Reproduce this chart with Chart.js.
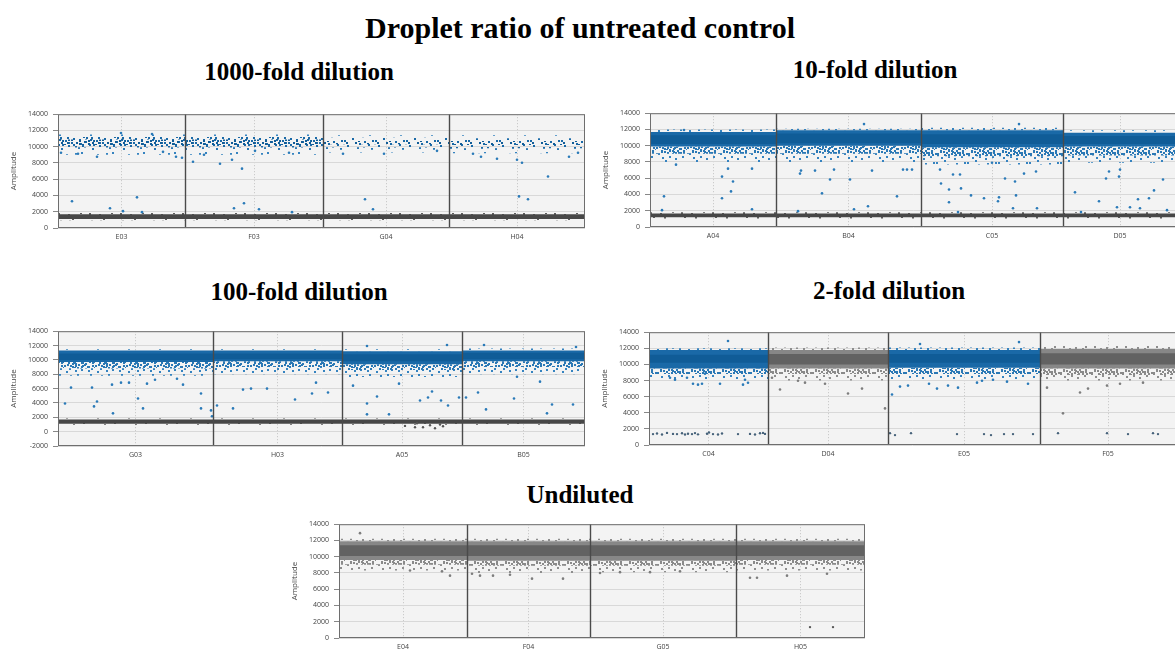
<!DOCTYPE html>
<html>
<head>
<meta charset="utf-8">
<script src="https://cdn.jsdelivr.net/npm/chart.js@4.4.1/dist/chart.umd.min.js"></script>
<style>
html, body { margin: 0; padding: 0; background: #fff; width: 1175px; height: 650px; overflow: hidden; position: relative; }
.t { position: absolute; font-family: "Liberation Serif", "Times New Roman", serif; font-weight: bold; color: #000; white-space: nowrap; transform: translate(-50%, -50%); }
.p { position: absolute; }
</style>
</head>
<body>
<div class="t" style="left:580px;top:28px;font-size:30px">Droplet ratio of untreated control</div>
<div class="t" style="left:299px;top:72px;font-size:25px">1000-fold dilution</div>
<div class="t" style="left:875px;top:70px;font-size:25px">10-fold dilution</div>
<div class="t" style="left:299px;top:292px;font-size:25px">100-fold dilution</div>
<div class="t" style="left:889px;top:291px;font-size:25px">2-fold dilution</div>
<div class="t" style="left:580px;top:495px;font-size:25px">Undiluted</div>

<div class="p" style="left:2px;top:105px;width:587px;height:143px"><canvas id="c1000"></canvas></div>
<div class="p" style="left:594px;top:104px;width:587px;height:143px"><canvas id="c10"></canvas></div>
<div class="p" style="left:2px;top:322px;width:587px;height:144px"><canvas id="c100"></canvas></div>
<div class="p" style="left:593px;top:323px;width:587px;height:142px"><canvas id="c2"></canvas></div>
<div class="p" style="left:283px;top:515px;width:586px;height:143px"><canvas id="c0"></canvas></div>

<script>
// ---- dane: studzienki, liczba kropli, pasma amplitudy ----
// pasmo pozytywne: [ogonDol, ogonSrodek, pasmoDol, rdzenDol, rdzenGora, pasmoGora, ogonGora]

// 1000-fold
const wells1000 = ['E03', 'F03', 'G04', 'H04'];
const events1000 = [12700, 13800, 12600, 13600];
const posBand1000 = [
    [9000, 9600, 9900, 10200, 10900, 11200, 11500],
    [9000, 9600, 9900, 10200, 10900, 11200, 11500],
    [9300, 9700, 9900, 10300, 10700, 11100, 11400],
    [9200, 9600, 9800, 10200, 10700, 11000, 11400]
];
const negBand1000 = [[1100, 1700], [1100, 1700], [1100, 1700], [1100, 1700]];
const posOut1000 = [
    [300, 9250], [2000, 9130], [3900, 8760], [1400, 3290], [5200, 2430], [7900, 3770], [6500, 2070],
    [8400, 1950], [10500, 9370], [11800, 8760], [12400, 8640], [6300, 11680], [9400, 11560],
    [13500, 8150], [14600, 9010], [16200, 7910], [17400, 8400], [18400, 7300], [17600, 2430],
    [18600, 3040], [20100, 2310], [23400, 1950], [19700, 9490], [23100, 9250], [28500, 9130],
    [32600, 9130], [30700, 3530], [31500, 2310], [37900, 9490], [41500, 9130], [42300, 8760],
    [43900, 8520], [45900, 8400], [46400, 8030], [49000, 6330], [46100, 3890], [47000, 3530],
    [51100, 8760], [52000, 9250]
];
const negOut1000 = [];

// 10-fold
const wells10 = ['A04', 'B04', 'C05', 'D05'];
const events10 = [12600, 14500, 14200, 11400];
const posBand10 = [
    [8000, 9000, 9900, 10200, 11300, 11700, 12000],
    [8000, 9000, 10000, 10300, 11500, 11900, 12100],
    [7700, 8700, 9800, 10200, 11400, 11900, 12200],
    [7900, 8800, 9900, 10200, 11200, 11600, 11900]
];
const negBand10 = [[1200, 1650], [1200, 1650], [1200, 1650], [1200, 1650]];
const posOut10 = [
    [1400, 3770], [1200, 2070], [7200, 6200], [7800, 7180], [8300, 5600], [7200, 3530], [8100, 4380],
    [10200, 7180], [10200, 2190], [2600, 7670], [3400, 11930], [15000, 6570], [15100, 6940],
    [17200, 4140], [18000, 5840], [18400, 7060], [20000, 5840], [21400, 12660], [21800, 2560],
    [20400, 2190], [14800, 1950], [16500, 6940], [22200, 6940], [24700, 3770], [25300, 7060],
    [25700, 7060], [26200, 7060], [29100, 5360], [29900, 4620], [31100, 4750], [29900, 3040],
    [32100, 3890], [33400, 3530], [34900, 3650], [34800, 3160], [35500, 5960], [36500, 5600],
    [36600, 3890], [36300, 2310], [38700, 2310], [36900, 12660], [29000, 7060], [30300, 6450],
    [31000, 6450], [34200, 7910], [37400, 6570], [38600, 6820], [30800, 1830], [42500, 4260],
    [44900, 3160], [45600, 5960], [46900, 6200], [46700, 2430], [48000, 2430], [48800, 3410],
    [49900, 3530], [50400, 4500], [51300, 5840], [49000, 2310], [43100, 1830], [51700, 2070],
    [45900, 6820], [47000, 7060]
];
const negOut10 = [];

// 100-fold
const wells100 = ['G03', 'H03', 'A05', 'B05'];
const events100 = [15500, 12900, 12000, 12300];
const posBand100 = [
    [7800, 8800, 9700, 10000, 10900, 11300, 11500],
    [8000, 9000, 9800, 10100, 10900, 11300, 11500],
    [7600, 8600, 9400, 9800, 10800, 11200, 11500],
    [8000, 9000, 9800, 10100, 11000, 11300, 11600]
];
const negBand100 = [[1100, 1700], [1100, 1700], [1100, 1700], [1100, 1700]];
const posOut100 = [
    [700, 3930], [1300, 6140], [3400, 6140], [3600, 3520], [3900, 4210], [5500, 2550], [5400, 6550],
    [6300, 6830], [7100, 6830], [8000, 4620], [8500, 3240], [8900, 6690], [9700, 7240], [11900, 7380],
    [12500, 6550], [14300, 5310], [14300, 3240], [15300, 2960], [15400, 2140], [15900, 3650],
    [17500, 3240], [18500, 5860], [19300, 6000], [20900, 6000], [23700, 4480], [25400, 5310],
    [27000, 5450], [25800, 6830], [29500, 6410], [30900, 3930], [30900, 2410], [31900, 4900],
    [33100, 2410], [34100, 6690], [36200, 4340], [37000, 4760], [37400, 5590], [38300, 4340],
    [39000, 3650], [40100, 4760], [38900, 12070], [30900, 11930], [40800, 4760], [42000, 5450],
    [42800, 3100], [45600, 4620], [48900, 2550], [49400, 3790], [51500, 3790], [42600, 12070],
    [51800, 11790], [48200, 6970], [45900, 7660]
];
const negOut100 = [
    [35700, 620], [37700, 480], [38500, 760], [36500, 620], [35900, 1170], [37200, 900],
    [38200, 1000], [34700, 800]
];

// 2-fold
const wells2 = ['C04', 'D04', 'E05', 'F05'];
const events2 = [11900, 12000, 15200, 13600];
const posBand2 = [
    [8200, 8800, 9500, 10200, 11200, 11800, 12000],
    [8000, 8800, 9500, 10000, 11300, 11800, 12100],
    [8200, 8800, 9600, 10200, 11300, 11800, 12100],
    [8000, 8700, 9500, 10000, 11400, 11900, 12300]
];
const negBand2 = [null, null, null, null];
const posOut2 = [
    [7900, 12900], [2600, 8100], [3800, 8350], [4400, 7610], [4900, 7490], [5300, 7610], [7100, 7610],
    [9400, 7490], [9600, 8100], [9900, 7730], [2100, 8350], [5600, 8840],
    [13100, 6880], [15600, 7740], [17600, 7610], [19900, 6390], [21300, 7000], [23600, 4540],
    [12300, 8350], [14900, 7980],
    [24300, 6260], [27100, 12530], [37000, 12770], [25100, 7250], [25900, 7370], [28000, 7610],
    [28800, 7000], [29900, 7370], [30900, 7120], [32800, 7740], [33300, 7980], [34400, 8100],
    [35800, 7860], [37900, 7610],
    [39800, 7120], [41400, 3930], [43100, 6510], [43900, 7000], [45800, 7370], [47100, 7610], [49400, 7740]
];
const negOut2 = [
    [400, 1350], [800, 1420], [1300, 1300], [1800, 1500], [2400, 1380], [2800, 1350], [3300, 1450],
    [3600, 1300], [3900, 1400], [4300, 1350], [4600, 1480], [4900, 1320], [5800, 1400], [6000, 1550],
    [6400, 1350], [6900, 1300], [7300, 1420], [8900, 1350], [10100, 1380], [10600, 1300], [11100, 1450],
    [11400, 1500], [11600, 1380],
    [24100, 1470], [24600, 1230], [26200, 1470], [30800, 1350], [33500, 1350], [34200, 1230],
    [35500, 1350], [36400, 1350], [38400, 1350],
    [40900, 1470], [45800, 1470], [47900, 1350], [50400, 1470], [50900, 1350]
];

// Undiluted
const wells0 = ['E04', 'F04', 'G05', 'H05'];
const events0 = [12800, 12300, 14600, 12900];
const posBand0 = [
    [8300, 9000, 9600, 10100, 11400, 11900, 12200],
    [8000, 8900, 9500, 10100, 11400, 11900, 12200],
    [8100, 8900, 9500, 10100, 11400, 11900, 12200],
    [8300, 9000, 9600, 10100, 11400, 11900, 12200]
];
const negBand0 = [null, null, null, null];
const posOut0 = [
    [2100, 12900], [11100, 7670], [19300, 7300], [22400, 7300], [13300, 7910], [14100, 7670],
    [15400, 7670], [17100, 7790], [41100, 7420], [41800, 7420], [44800, 7670], [48800, 7910],
    [7100, 8300], [10300, 8200], [26100, 8000], [28100, 8100], [31100, 8100], [34100, 8200]
];
const negOut0 = [[47100, 1340], [49400, 1340]];

// ---- styl ----
const COL = {
    blue: { tail: '#3583c0', mid: '#2a78b5', main: '#1a69a7', core: '#105c97', dot: '#2a7ab8' },
    gray: { tail: '#8e8e8e', mid: '#8a8a8a', main: '#878787', core: '#626262', dot: '#7d7d7d' }
};
const NEG = { outer: '#5c5c5c', core: '#474747', dot: '#555555' };

// kafelek 31x23, kropki 2x2
const SPARSE = [[2,3],[17,1],[26,6],[9,10],[21,13],[4,17],[14,19],[28,20],[11,2]];
const MEDIUM = SPARSE.concat([[6,7],[13,6],[24,2],[29,12],[1,12],[16,15],[8,21],[20,19],[25,16],[5,0],[19,8],[27,0],[12,14]]);
const DENSE = MEDIUM.concat([[3,9],[10,5],[15,11],[22,9],[28,4],[7,14],[18,17],[23,21],[0,20],[11,18],[26,11],
    [16,3],[8,1],[20,4],[4,14],[13,22],[24,7],[29,16],[2,6],[17,21],[21,0],[9,16],[27,9]]);
const HEAVY = DENSE.concat(DENSE.map(d => [(d[0] + 15) % 31, (d[1] + 11) % 23]));
const DOTS = { sparse: SPARSE, medium: MEDIUM, dense: DENSE, heavy: HEAVY };

function speckle(colour, kind, shift) {
    const c = document.createElement('canvas');
    c.width = 31; c.height = 23;
    const g = c.getContext('2d');
    g.fillStyle = colour;
    const s = shift || 0;
    DOTS[kind].forEach(d => g.fillRect((d[0] + s) % 31, (d[1] + s * 2) % 23, 2, 2));
    return g.createPattern(c, 'repeat');
}

function pair(x0, x1, lo, hi, fillStyle) {
    const base = { type: 'line', showLine: true, pointRadius: 0, borderWidth: 0, borderColor: 'transparent', tension: 0 };
    return [
        Object.assign({}, base, { data: [{ x: x0, y: lo }, { x: x1, y: lo }], fill: false }),
        Object.assign({}, base, { data: [{ x: x0, y: hi }, { x: x1, y: hi }], fill: '-1', backgroundColor: fillStyle })
    ];
}

const framePlugin = {
    id: 'frame',
    beforeDraw(chart) {
        const a = chart.chartArea, g = chart.ctx;
        g.save();
        g.fillStyle = '#f3f3f3';
        g.fillRect(a.left, a.top, a.right - a.left, a.bottom - a.top);
        g.restore();
    },
    afterDatasetsDraw(chart, args, opts) {
        const a = chart.chartArea, g = chart.ctx, sx = chart.scales.x;
        g.save();
        g.strokeStyle = '#4a4a4a';
        g.lineWidth = 1.4;
        (opts.bounds || []).forEach(b => {
            const px = Math.round(sx.getPixelForValue(b)) + 0.5;
            g.beginPath(); g.moveTo(px, a.top); g.lineTo(px, a.bottom); g.stroke();
        });
        g.strokeStyle = '#6e6e6e';
        g.lineWidth = 1;
        g.strokeRect(a.left + 0.5, a.top + 0.5, a.right - a.left - 1, a.bottom - a.top - 1);
        g.restore();
    }
};

const tickFont = { family: 'Open Sans', size: 7 };

function buildPanel(id, wells, events, posBand, negBand, posOut, negOut, look) {
    const starts = [0];
    events.forEach((e, i) => starts.push(starts[i] + e));
    const total = starts[starts.length - 1];
    const centers = events.map((e, i) => starts[i] + e / 2);
    const bounds = starts.slice(1, -1);
    const colours = look.colours || wells.map(() => 'blue');
    const textures = look.textures || wells.map(() => null);

    let datasets = [];
    wells.forEach((w, i) => {
        const x0 = starts[i], x1 = starts[i + 1];
        const c = COL[colours[i]];
        const b = posBand[i];
        if (negBand[i]) {
            datasets = datasets.concat(pair(x0, x1, negBand[i][0] - 150, negBand[i][1] + 150, speckle(NEG.outer, 'medium')));
            datasets = datasets.concat(pair(x0, x1, negBand[i][0], negBand[i][1], NEG.core));
        }
        const tx = textures[i];
        datasets = datasets.concat(pair(x0, x1, b[0], b[1], speckle(c.tail, tx ? 'sparse' : 'medium')));
        datasets = datasets.concat(pair(x0, x1, b[1], b[2], speckle(c.mid, tx ? 'sparse' : 'heavy')));
        datasets = datasets.concat(pair(x0, x1, b[5], b[6], speckle(c.tail, tx ? 'sparse' : 'medium')));
        if (tx) {
            datasets = datasets.concat(pair(x0, x1, b[2], b[5], speckle(c.main, tx)));
            datasets = datasets.concat(pair(x0, x1, b[3], b[4], speckle(c.core, tx === 'medium' ? 'medium' : 'dense', 7)));
        } else {
            datasets = datasets.concat(pair(x0, x1, b[2], b[5], c.main));
            datasets = datasets.concat(pair(x0, x1, b[3], b[4], c.core));
        }
    });

    const wellOf = x => { for (let i = 0; i < events.length; i++) if (x < starts[i + 1]) return i; return events.length - 1; };
    datasets.push({
        type: 'line', showLine: false, borderColor: 'transparent',
        data: posOut.map(p => ({ x: p[0], y: p[1] })),
        pointRadius: 1.3, pointBorderWidth: 0,
        pointBackgroundColor: posOut.map(p => COL[colours[wellOf(p[0])]].dot)
    });
    datasets.push({
        type: 'line', showLine: false, borderColor: 'transparent',
        data: negOut.map(p => ({ x: p[0], y: p[1] })),
        pointRadius: 1.2, pointBorderWidth: 0,
        pointBackgroundColor: look.negDot || NEG.dot
    });
    // pozniejsze warstwy rysowane na wierzchu
    datasets.forEach((d, i) => { d.order = datasets.length - i; });

    new Chart(document.getElementById(id), {
        type: 'line',
        data: { datasets: datasets },
        plugins: [framePlugin],
        options: {
            responsive: true,
            maintainAspectRatio: false,
            animation: false,
            events: [],
            layout: { padding: { top: 8, right: 4, bottom: 0, left: 0 } },
            plugins: { legend: { display: false }, tooltip: { enabled: false }, frame: { bounds: bounds } },
            scales: {
                x: {
                    type: 'linear', min: 0, max: total,
                    afterBuildTicks: s => { s.ticks = centers.map(v => ({ value: v })); },
                    afterFit: s => { s.height = 20; },
                    ticks: { callback: (v, i) => wells[i], font: tickFont, color: '#444', padding: 5, maxRotation: 0, autoSkip: false },
                    grid: { color: '#c2c2c2', drawTicks: false, lineWidth: 1 },
                    border: { display: false, dash: [1, 2] }
                },
                y: {
                    min: look.yMin || 0, max: 14000,
                    afterFit: s => { s.width = 56; },
                    ticks: { stepSize: 2000, font: tickFont, color: '#444', padding: 5, callback: v => String(v) },
                    grid: { color: '#d8d8d8', tickLength: 5, tickColor: '#888' },
                    border: { display: false },
                    title: { display: true, text: 'Amplitude', font: { family: 'Open Sans', size: 8 }, color: '#444', padding: { top: 7, bottom: 0 } }
                }
            }
        }
    });
}

buildPanel('c1000', wells1000, events1000, posBand1000, negBand1000, posOut1000, negOut1000,
    { textures: ['dense', 'dense', 'medium', 'medium'] });
buildPanel('c10', wells10, events10, posBand10, negBand10, posOut10, negOut10, {});
buildPanel('c100', wells100, events100, posBand100, negBand100, posOut100, negOut100, { yMin: -2000 });
buildPanel('c2', wells2, events2, posBand2, negBand2, posOut2, negOut2,
    { colours: ['blue', 'gray', 'blue', 'gray'], negDot: '#46627a' });
buildPanel('c0', wells0, events0, posBand0, negBand0, posOut0, negOut0,
    { colours: ['gray', 'gray', 'gray', 'gray'] });
</script>
</body>
</html>
